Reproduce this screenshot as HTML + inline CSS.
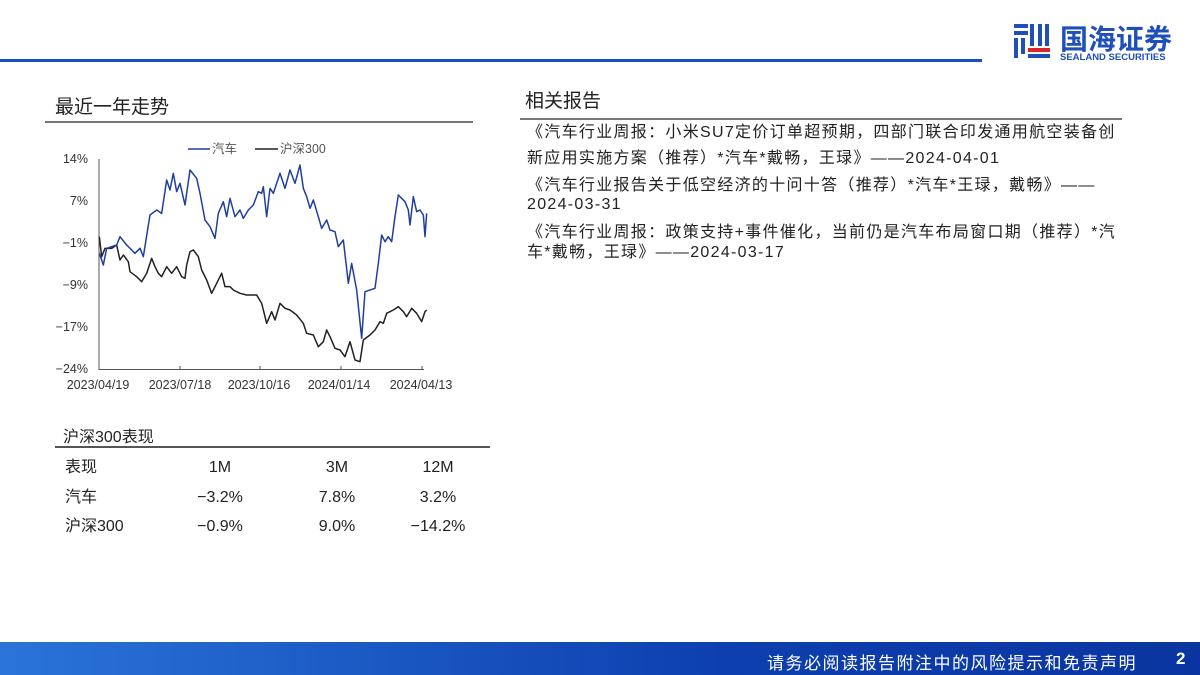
<!DOCTYPE html>
<html><head><meta charset="utf-8"><style>
body{margin:0;width:1200px;height:675px;position:relative;background:#fff;font-family:"Liberation Sans","Noto Sans CJK SC",sans-serif;color:#222;overflow:hidden}
.a{position:absolute;white-space:nowrap}
.r{position:absolute;left:527px;font-size:16px;letter-spacing:1.3px;white-space:nowrap;color:#222;line-height:18px}
</style></head><body>
<div class="a" style="left:0;top:59px;width:982px;height:3px;background:#1a4fc0"></div>
<svg class="a" style="left:1012px;top:22px" width="40" height="40" viewBox="0 0 40 40">
<rect x="2" y="2" width="14" height="4" fill="#1f4fb8"/><rect x="2" y="9" width="14" height="4" fill="#1f4fb8"/>
<rect x="2" y="16" width="4" height="20" fill="#1f4fb8"/><rect x="9" y="16" width="4" height="16" fill="#1f4fb8"/>
<rect x="18" y="2" width="4" height="22" fill="#1f4fb8"/><rect x="26" y="2" width="4" height="22" fill="#1f4fb8"/><rect x="33" y="2" width="4" height="22" fill="#1f4fb8"/>
<rect x="16" y="26" width="22" height="4" fill="#d8262c"/><rect x="16" y="32" width="22" height="4" fill="#1f4fb8"/>
</svg>
<div class="a" style="left:1060px;top:18px;font-size:28px;font-weight:bold;color:#1f4fb8">国海证券</div>
<div class="a" style="left:1060px;top:52px;font-size:9.5px;font-weight:bold;color:#1f4fb8">SEALAND SECURITIES</div>

<div class="a" style="left:55px;top:92px;font-size:19px;color:#222">最近一年走势</div>
<div class="a" style="left:45px;top:121px;width:428px;height:2px;background:#777"></div>
<div class="a" style="left:525px;top:86px;font-size:19px;color:#222">相关报告</div>
<div class="a" style="left:520px;top:118px;width:602px;height:2px;background:#777"></div>

<div class="r" style="top:124px">《汽车行业周报：小米SU7定价订单超预期，四部门联合印发通用航空装备创</div>
<div class="r" style="top:150px">新应用实施方案（推荐）*汽车*戴畅，王琭》——2024-04-01</div>
<div class="r" style="top:177px">《汽车行业报告关于低空经济的十问十答（推荐）*汽车*王琭，戴畅》——</div>
<div class="r" style="top:196px">2024-03-31</div>
<div class="r" style="top:224px">《汽车行业周报：政策支持+事件催化，当前仍是汽车布局窗口期（推荐）*汽</div>
<div class="r" style="top:244px">车*戴畅，王琭》——2024-03-17</div>

<svg class="a" style="left:0;top:0" width="500" height="400">
<g font-size="12.5" fill="#333" text-anchor="end" font-family="Liberation Sans, sans-serif">
<text x="88" y="163">14%</text><text x="88" y="205">7%</text><text x="88" y="247">−1%</text><text x="88" y="289">−9%</text><text x="88" y="331">−17%</text><text x="88" y="373">−24%</text>
</g>
<g font-size="12.5" fill="#333" text-anchor="middle" font-family="Liberation Sans, sans-serif">
<text x="98" y="389">2023/04/19</text><text x="180" y="389">2023/07/18</text><text x="259" y="389">2023/10/16</text><text x="339" y="389">2024/01/14</text><text x="421" y="389">2024/04/13</text>
</g>
<line x1="99" y1="159" x2="99" y2="370" stroke="#555"/>
<line x1="99" y1="369.5" x2="424" y2="369.5" stroke="#555"/>
<g stroke="#555"><line x1="180" y1="366" x2="180" y2="370"/><line x1="260" y1="366" x2="260" y2="370"/><line x1="341" y1="366" x2="341" y2="370"/><line x1="422" y1="366" x2="422" y2="370"/></g>
<line x1="188" y1="149" x2="210" y2="149" stroke="#1f3f9e" stroke-width="1.5"/>
<text x="212" y="153" font-size="12.5" fill="#555">汽车</text>
<line x1="255" y1="149" x2="278" y2="149" stroke="#222" stroke-width="1.5"/>
<text x="280" y="153" font-size="12.5" fill="#555">沪深300</text>
<g transform="translate(40,130) scale(0.33333)" fill="none" stroke-width="4.5" stroke-linejoin="round">
<polyline stroke="#222" points="178,320 185,380 195,355 215,355 230,345 240,390 250,375 265,395 270,425 290,440 305,455 320,430 335,385 345,410 355,430 365,440 380,410 395,430 410,410 425,440 435,445 440,405 450,365 460,360 475,380 485,420 500,450 515,490 530,460 545,430 555,470 570,470 580,480 600,490 620,495 650,495 665,520 680,580 695,545 705,570 720,520 735,535 750,540 770,555 790,580 800,610 820,615 835,650 850,635 860,600 870,620 885,655 900,660 915,680 930,635 945,690 960,695 970,630 990,615 1005,600 1020,575 1030,580 1040,550 1060,540 1075,530 1090,545 1100,560 1115,535 1130,550 1145,575 1155,545 1160,540"/>
<polyline stroke="#1f3f9e" points="178,370 190,405 200,355 230,345 240,320 260,345 285,370 300,355 310,380 330,255 350,240 365,250 380,150 390,180 400,130 410,185 420,160 435,225 450,120 470,145 480,190 495,270 510,290 525,325 535,250 550,215 560,260 570,205 585,260 600,240 610,265 625,240 640,225 655,185 665,190 670,170 680,260 690,175 700,190 710,160 720,130 735,175 750,120 765,160 780,105 790,175 800,200 810,235 820,210 835,260 845,295 860,270 870,300 885,305 895,350 910,330 925,460 935,400 950,480 965,625 975,485 1005,475 1015,400 1025,315 1035,335 1045,320 1055,335 1065,260 1075,195 1085,205 1095,215 1105,240 1110,285 1120,200 1130,245 1140,240 1150,255 1155,320 1160,250"/>
</g>
</svg>

<div class="a" style="left:63px;top:423px;font-size:16px">沪深300表现</div>
<div class="a" style="left:55px;top:446px;width:435px;height:2px;background:#555"></div>
<div class="a" style="left:65px;top:453px;font-size:16px;line-height:29.5px">表现<br>汽车<br>沪深300</div>
<div class="a" style="left:160px;top:453px;width:120px;text-align:center;font-size:16px;line-height:29.5px">1M<br>−3.2%<br>−0.9%</div>
<div class="a" style="left:282px;top:453px;width:110px;text-align:center;font-size:16px;line-height:29.5px">3M<br>7.8%<br>9.0%</div>
<div class="a" style="left:378px;top:453px;width:120px;text-align:center;font-size:16px;line-height:29.5px">12M<br>3.2%<br>−14.2%</div>

<div class="a" style="left:0;top:642px;width:1200px;height:33px;background:linear-gradient(90deg,#2a74d8,#0d3fb0 60%,#0a35a0)"></div>
<div class="a" style="left:767px;top:649px;font-size:17px;letter-spacing:1.5px;color:#fff">请务必阅读报告附注中的风险提示和免责声明</div>
<div class="a" style="left:1176px;top:649px;font-size:17px;color:#fff;font-weight:bold">2</div>
</body></html>
